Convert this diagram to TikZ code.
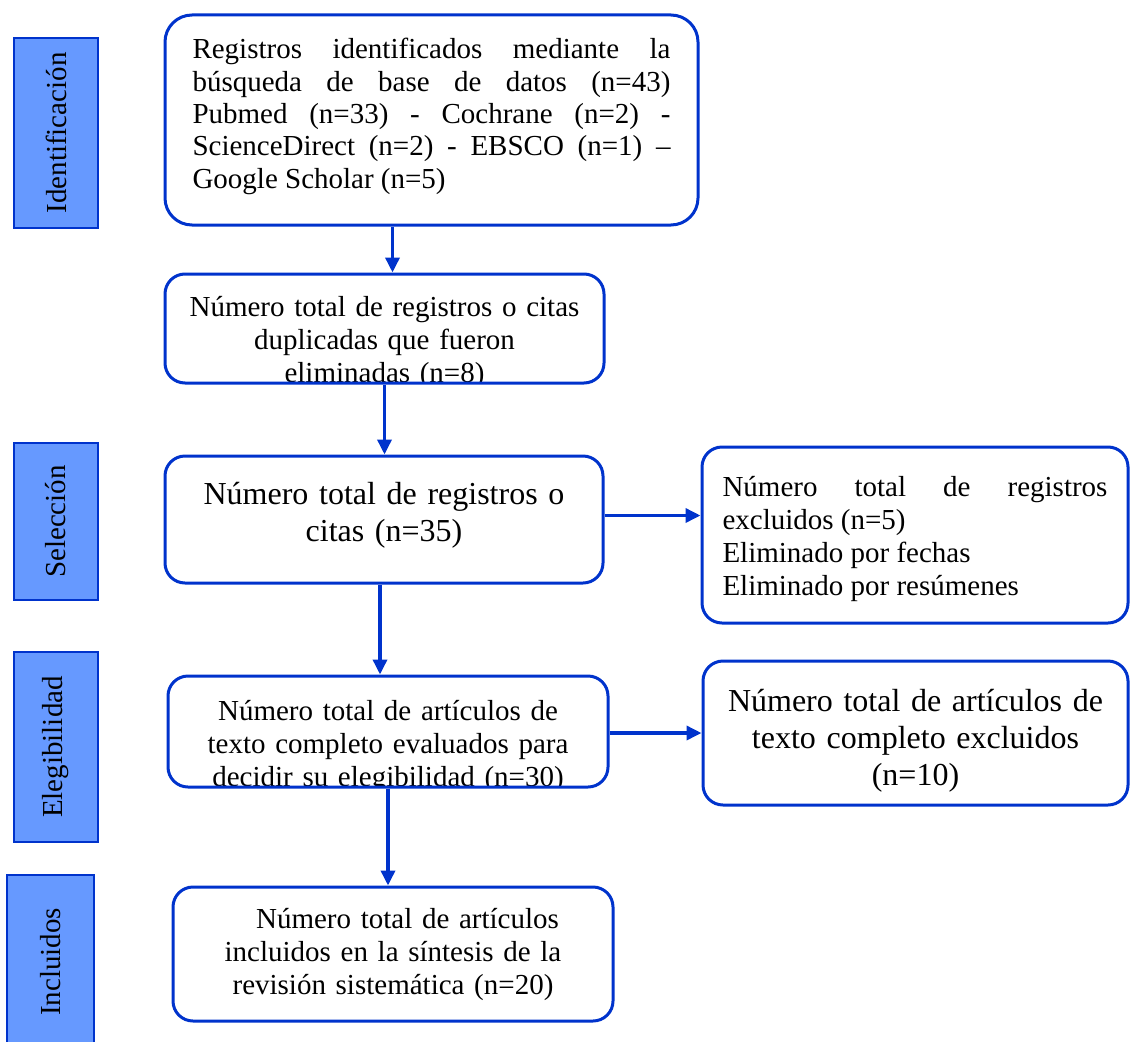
\documentclass[tikz,border=0pt]{standalone}
\usepackage{fontspec}
\setmainfont{Liberation Serif}
\usetikzlibrary{arrows.meta,calc}

\definecolor{azul}{RGB}{0,51,204}
\definecolor{relleno}{RGB}{102,153,255}

\tikzset{
  caja/.style={draw=azul, line width=3pt, rounded corners=20pt, inner sep=0pt,
    align=center, font=\fontsize{29}{33}\selectfont},
  grande/.style={font=\fontsize{32}{37}\selectfont},
  texto/.style={draw=none, fill=none, inner sep=0pt, align=center, text width=420pt,
    font=\fontsize{29}{33}\selectfont},
  etapa/.style={draw=azul, line width=1.2pt, fill=relleno, inner sep=0pt,
    rotate=90, font=\fontsize{29}{33}\selectfont},
  flecha/.style={draw=azul, line width=3.5pt, -{Triangle[length=15pt,width=14pt]}}
}

\begin{document}
\begin{tikzpicture}[x=1pt,y=-1pt]
  \useasboundingbox (0,0) rectangle (1131,1041);

  % etapas
  \node[etapa, minimum width=190pt, minimum height=84pt] (fIdent) at (56,133) {Identificación};
  \node[etapa, minimum width=157pt, minimum height=84pt] (fSelec) at (56,521.5) {Selección};
  \node[etapa, minimum width=190pt, minimum height=84pt] (fEleg) at (56,747) {Elegibilidad};
  \node[etapa, minimum width=174pt, minimum height=87pt] (fIncl) at (50.5,962) {Incluidos};

  % cajas
  \node[caja, rounded corners=27pt, minimum width=533pt, text width=478pt, align=justify,
    font=\fontsize{29}{32.3}\selectfont, text height=44pt, text depth=166pt] (ident) at (431.5,120)
    {Registros identificados mediante la \linebreak búsqueda de base de datos (n=43)
     \linebreak Pubmed (n=33) - Cochrane (n=2) - \linebreak ScienceDirect (n=2) - EBSCO (n=1) –
     \linebreak Google Scholar (n=5)};
  % el texto que no cabe queda cortado por la caja
  \node[caja, minimum width=439pt, minimum height=109pt,
    path picture={\node[texto, anchor=base] (dupt) at ([yshift=-42pt]path picture bounding box.north)
      {Número total de registros o citas\\ duplicadas que fueron\\ eliminadas (n=8)};}]
    (dup) at (384.5,328.5) {};
  \node[caja, grande, minimum width=438pt, text width=420pt, text height=48pt, text depth=79pt]
    (selec) at (384,519.5) {Número total de registros o\\ citas (n=35)};
  \node[caja, minimum width=426pt, text width=385pt, align=justify,
    text height=49pt, text depth=127pt] (excl) at (915,535)
    {Número total de registros \linebreak excluidos (n=5)\\ Eliminado por fechas\\ Eliminado por resúmenes};
  \node[caja, minimum width=440pt, minimum height=111pt,
    path picture={\node[texto, anchor=base] (elegt) at ([yshift=-44pt]path picture bounding box.north)
      {Número total de artículos de\\ texto completo evaluados para\\ decidir su elegibilidad (n=30)};}]
    (eleg) at (388,731.5) {};
  \node[caja, grande, minimum width=425pt, text width=400pt, text height=50pt, text depth=94pt]
    (exclt) at (915.5,733)
    {Número total de artículos de\\ texto completo excluidos\\ (n=10)};
  \node[caja, minimum width=440pt, minimum height=134pt, text width=420pt]
    (incl) at (393,954)
    {\hspace*{1em}Número total de artículos\\ incluidos en la síntesis de la\\ revisión sistemática (n=20)};

  % flechas
  \draw[flecha] ([xshift=8pt]dup.north |- ident.south) -- ([xshift=8pt]dup.north);
  \draw[flecha] (dup.south) -- (dup.south |- selec.north);
  \draw[flecha] ([yshift=4pt]selec.east) -- ([yshift=4pt]selec.east -| excl.west);
  \draw[flecha] ([xshift=-4pt]selec.south) -- ([xshift=-4pt]selec.south |- eleg.north);
  \draw[flecha] ([yshift=-1.5pt]eleg.east) -- ([yshift=-1.5pt]eleg.east -| exclt.west);
  \draw[flecha] (eleg.south) -- (eleg.south |- incl.north);
\end{tikzpicture}
\end{document}
